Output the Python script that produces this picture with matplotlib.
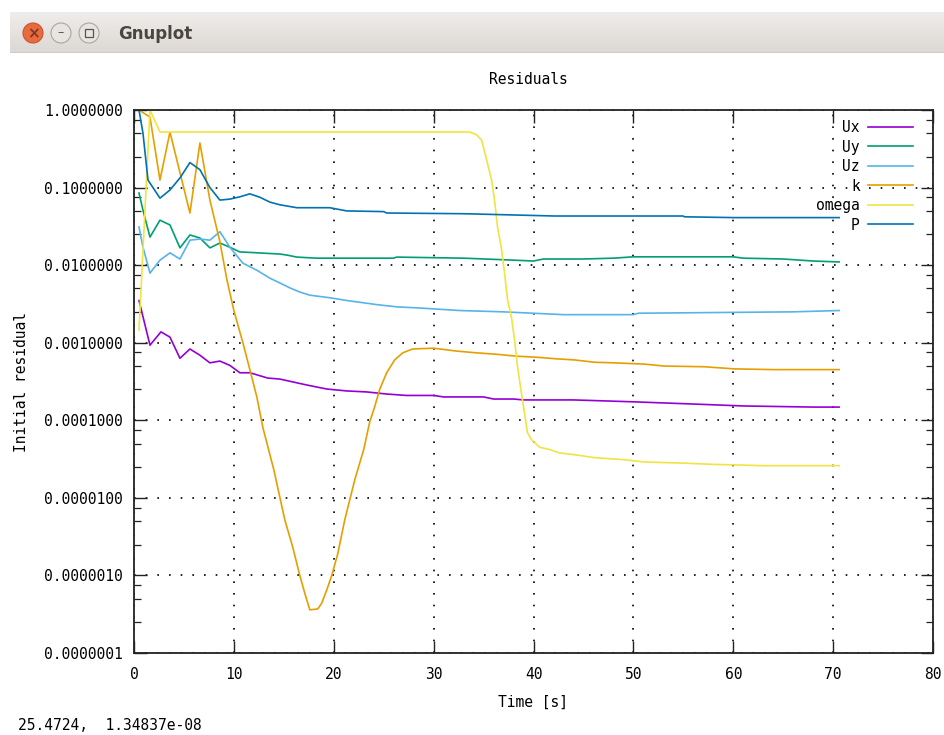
import numpy as np
import matplotlib
matplotlib.use("Agg")
from matplotlib import pyplot as plt
from matplotlib.patches import Circle, Rectangle
from matplotlib.ticker import FixedLocator, FuncFormatter

# residual histories
ux_t = [0.5, 1.6, 2.7, 3.6, 4.6, 5.6, 6.6, 7.6, 8.6, 9.6, 10.6, 11.6, 13.4, 14.6, 17.3, 19.3, 21.3,
        23.3, 25.3, 27.3, 30.0, 31.0, 35.0, 36.0, 38.0, 39.0, 44.0, 47.0, 50.0, 56.0, 61.0, 68.0, 70.6]
ux_v = [3.5e-3, 9.3e-4, 1.38e-3, 1.18e-3, 6.3e-4, 8.3e-4, 6.9e-4, 5.5e-4, 5.8e-4, 5.1e-4, 4.1e-4,
        4.1e-4, 3.5e-4, 3.4e-4, 2.85e-4, 2.53e-4, 2.39e-4, 2.32e-4, 2.18e-4, 2.09e-4, 2.09e-4, 2.0e-4,
        2.0e-4, 1.88e-4, 1.88e-4, 1.83e-4, 1.83e-4, 1.78e-4, 1.73e-4, 1.62e-4, 1.53e-4, 1.48e-4, 1.48e-4]

uy_t = [0.5, 0.9, 1.6, 2.6, 3.6, 4.6, 5.6, 6.6, 7.6, 8.6, 9.6, 10.6, 12.0, 14.6, 15.3, 16.3, 18.3,
        26.0, 26.3, 33.0, 38.0, 40.0, 41.0, 45.0, 48.0, 50.0, 60.0, 61.0, 65.0, 68.0, 70.6]
uy_v = [0.085, 0.051, 0.023, 0.038, 0.033, 0.0167, 0.0245, 0.0224, 0.0167, 0.0193, 0.017, 0.0148,
        0.0145, 0.0139, 0.0135, 0.0127, 0.0123, 0.0123, 0.0127, 0.0123, 0.0116, 0.0113, 0.012, 0.012,
        0.0123, 0.0128, 0.0128, 0.0123, 0.012, 0.0113, 0.011]

uz_t = [0.5, 0.9, 1.6, 2.6, 3.6, 4.6, 5.6, 6.6, 7.6, 8.6, 9.6, 10.9, 12.3, 13.6, 14.6, 15.6, 16.6,
        17.6, 19.6, 21.3, 24.3, 26.3, 28.6, 32.6, 37.0, 43.0, 50.0, 50.5, 66.0, 70.6]
uz_v = [0.031, 0.017, 0.0079, 0.0116, 0.0144, 0.012, 0.021, 0.0217, 0.021, 0.027, 0.017, 0.0106,
        0.0086, 0.0068, 0.0059, 0.0051, 0.0045, 0.0041, 0.0038, 0.0035, 0.0031, 0.0029, 0.0028,
        0.0026, 0.0025, 0.0023, 0.0023, 0.0024, 0.0025, 0.0026]

k_t = [0.5, 1.6, 2.6, 3.6, 5.6, 6.6, 7.6, 8.6, 9.3, 10.0, 10.9, 11.6, 12.3, 12.9, 14.0, 15.1, 15.9,
       16.6, 17.1, 17.6, 18.4, 18.8, 19.3, 19.8, 20.4, 21.1, 22.1, 23.0, 23.6, 24.1, 24.6, 25.3, 26.1,
       26.9, 27.9, 30.0, 32.3, 34.3, 36.3, 38.3, 40.3, 42.3, 44.1, 46.1, 48.1, 51.1, 53.1, 57.1, 60.1,
       64.1, 70.6]
k_v = [1.0, 0.81, 0.125, 0.52, 0.047, 0.376, 0.069, 0.02, 0.0065, 0.0026, 0.001, 4.5e-4, 2.0e-4,
       8.1e-5, 2.3e-5, 5.2e-6, 2.3e-6, 1.0e-6, 5.9e-7, 3.6e-7, 3.7e-7, 4.4e-7, 6.5e-7, 1.0e-6, 1.9e-6,
       5.2e-6, 1.7e-5, 4.2e-5, 9.5e-5, 1.5e-4, 2.5e-4, 4.1e-4, 6.0e-4, 7.4e-4, 8.3e-4, 8.5e-4, 7.8e-4,
       7.4e-4, 7.1e-4, 6.7e-4, 6.5e-4, 6.2e-4, 6.0e-4, 5.6e-4, 5.5e-4, 5.3e-4, 5.0e-4, 4.9e-4, 4.6e-4,
       4.5e-4, 4.5e-4]

om_t = [0.5, 1.6, 2.6, 33.6, 34.3, 34.8, 35.3, 35.8, 36.1, 36.4, 36.8, 37.1, 37.4, 37.8, 38.1, 38.4,
        38.8, 39.1, 39.4, 39.8, 40.6, 41.6, 42.6, 44.1, 46.1, 49.1, 51.1, 55.1, 58.1, 63.1, 70.6]
om_v = [1.45e-3, 1.0, 0.52, 0.52, 0.48, 0.41, 0.23, 0.125, 0.069, 0.031, 0.016, 0.0079, 0.0036,
        0.0021, 0.0011, 4.9e-4, 2.2e-4, 1.24e-4, 6.9e-5, 5.6e-5, 4.5e-5, 4.2e-5, 3.8e-5, 3.6e-5,
        3.3e-5, 3.1e-5, 2.9e-5, 2.8e-5, 2.7e-5, 2.6e-5, 2.6e-5]

p_t = [0.5, 0.9, 1.4, 2.6, 3.6, 4.6, 5.6, 6.6, 7.6, 8.6, 9.6, 10.6, 11.6, 12.6, 13.6, 14.6, 16.3,
       19.6, 21.3, 25.0, 25.3, 33.1, 42.1, 55.0, 55.1, 60.1, 70.6]
p_v = [1.0, 0.5, 0.125, 0.073, 0.093, 0.133, 0.21, 0.17, 0.10, 0.069, 0.071, 0.076, 0.083, 0.075,
       0.065, 0.06, 0.055, 0.055, 0.050, 0.049, 0.047, 0.046, 0.043, 0.043, 0.042, 0.041, 0.041]

labels = ["Ux", "Uy", "Uz", "k", "omega", "P"]
colors = ["#9400d3", "#009e73", "#56b4e9", "#e69f00", "#f0e442", "#0072b2"]
x_ticks = [0, 10, 20, 30, 40, 50, 60, 70, 80]
y_ticks = [1e-7, 1e-6, 1e-5, 1e-4, 1e-3, 1e-2, 1e-1, 1.0]

W, H = 944, 735
mono = "DejaVu Sans Mono"
fs = 10.5

fig = plt.figure(figsize=(W / 100, H / 100), dpi=100)
fig.patch.set_facecolor("white")

# window decoration (title bar)
deco = fig.add_axes([0, 0, 1, 1], zorder=0)
deco.set_xlim(0, W)
deco.set_ylim(H, 0)
deco.axis("off")
grad = np.linspace(0, 1, 50).reshape(-1, 1)
deco.imshow(grad, extent=(10, W, 53, 12), aspect="auto",
            cmap=matplotlib.colors.LinearSegmentedColormap.from_list("tb", ["#efedeb", "#dcd8d3"]))
deco.add_patch(Rectangle((10, 52), W - 10, 1.2, color="#cfcbc6", lw=0))
deco.add_patch(Circle((33, 33), 10, facecolor="#ea6a3f", edgecolor="#c9552f", lw=0.8))
deco.text(33, 33.5, "\u00d7", ha="center", va="center", fontsize=11, color="#7c3a22", fontweight="bold")
deco.add_patch(Circle((61, 33), 10, facecolor="#e7e4e1", edgecolor="#aaa6a1", lw=0.8))
deco.text(61, 33, "\u2013", ha="center", va="center", fontsize=9, color="#555")
deco.add_patch(Circle((89, 33), 10, facecolor="#e7e4e1", edgecolor="#aaa6a1", lw=0.8))
deco.add_patch(Rectangle((85, 29), 8, 8, facecolor="none", edgecolor="#555", lw=0.9))
deco.text(118, 33.5, "Gnuplot", ha="left", va="center", fontsize=12, fontweight="bold",
          color="#4a4540", family="DejaVu Sans")

# plot area
ax = fig.add_axes([134 / W, (H - 653) / H, (933 - 134) / W, (653 - 110) / H], zorder=1)
series = [(ux_t, ux_v), (uy_t, uy_v), (uz_t, uz_v), (k_t, k_v), (om_t, om_v), (p_t, p_v)]
for (t, v), lab, c in zip(series, labels, colors):
    ax.plot(t, v, color=c, lw=1.2, label=lab)

ax.set_yscale("log")
ax.set_xlim(0, 80)
ax.set_ylim(1e-7, 1)
ax.set_xticks(x_ticks)
ax.yaxis.set_major_locator(FixedLocator(y_ticks))
minor = [m * 10.0 ** e for e in range(-7, 0) for m in (2.5, 5, 7.5)]
ax.yaxis.set_minor_locator(FixedLocator(minor))
ax.yaxis.set_minor_formatter(FuncFormatter(lambda v, p: ""))
ax.yaxis.set_major_formatter(FuncFormatter(lambda v, p: "%.7f" % v))
ax.tick_params(which="major", direction="in", top=True, right=True, length=9, width=1.0,
               color="#222", labelsize=fs, labelfontfamily=mono)
ax.tick_params(axis="x", which="major", pad=10)
ax.tick_params(axis="y", which="major", pad=8)
ax.tick_params(which="minor", direction="in", top=False, right=True, length=5, width=0.9, color="#222")
for s in ax.spines.values():
    s.set_linewidth(1.3)
    s.set_color("#222")
ax.grid(True, which="major", color="black", lw=1.2, ls=(0, (1, 6)))

ax.set_xlabel("Time [s]", fontsize=fs, family=mono, va="center")
ax.xaxis.set_label_coords(0.5, -(702 - 653) / 543)
ax.set_ylabel("Initial residual", fontsize=fs, family=mono, va="center", ha="center")
ax.yaxis.set_label_coords((22 - 134) / 799, 0.5)

fig.text(528 / W, 1 - 80 / H, "Residuals", ha="center", va="center", fontsize=fs, family=mono)
fig.text(18 / W, 1 - 725 / H, "25.4724,  1.34837e-08", ha="left", va="center", fontsize=fs, family=mono)

leg = ax.legend(loc="upper right", bbox_to_anchor=((913 - 134) / 799, 1 - 10 / 543), frameon=False,
                markerfirst=False, prop={"family": mono, "size": fs}, handlelength=3.1,
                handletextpad=0.55, labelspacing=0.31, borderpad=0, borderaxespad=0)

fig.savefig("out.png", dpi=100)
